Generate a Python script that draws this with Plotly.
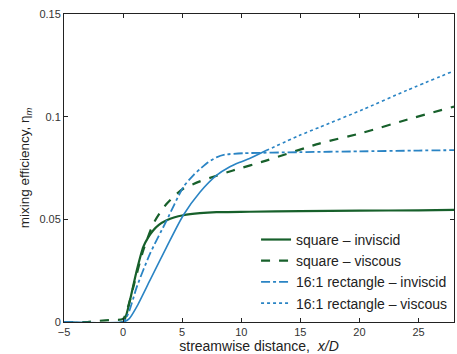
import plotly.graph_objects as go

# square - inviscid
sq_inv_x = [-5, 0, 0.3, 0.59, 1.16, 1.71, 2.1, 2.56, 3.0, 3.69, 4.3, 5.09, 6.5, 7.9, 10.7, 15, 20, 25, 28]
sq_inv_y = [0, 0, 0.004, 0.0107, 0.0252, 0.0366, 0.041, 0.0447, 0.0472, 0.0495, 0.0509, 0.052, 0.053, 0.0535, 0.0537, 0.054, 0.0542, 0.0544, 0.0546]

# square - viscous
sq_vis_x = [-5, -3, -2, -1, 0, 0.4, 0.87, 1.71, 2.56, 3.1, 3.69, 4.3, 5.09, 6.5, 7.9, 9.3, 12.1, 16.6, 20.3, 24, 28]
sq_vis_y = [0, 0, 0.0006, 0.001, 0.0015, 0.007, 0.0171, 0.035, 0.0479, 0.053, 0.0576, 0.0612, 0.0649, 0.0685, 0.0712, 0.0738, 0.0786, 0.0869, 0.0922, 0.0985, 0.1049]

# 16:1 rectangle - inviscid
re_inv_x = [-5, 0, 0.5, 1.16, 2.28, 3.69, 5.09, 6.0, 6.5, 7.2, 7.9, 8.6, 10.2, 14.9, 20, 25, 28]
re_inv_y = [0, 0, 0.005, 0.0171, 0.0333, 0.0495, 0.0657, 0.0718, 0.0745, 0.0778, 0.0802, 0.0815, 0.0822, 0.0827, 0.0831, 0.0835, 0.0837]

# 16:1 rectangle - viscous
re_vis_x = [-5, 0, 0.5, 1.15, 2.28, 3.69, 5.09, 6.5, 7.9, 9.0, 9.9, 10.7, 12.1, 14.9, 16.6, 20.3, 24, 28]
re_vis_y = [0, 0, 0.0015, 0.0074, 0.0204, 0.0366, 0.052, 0.0632, 0.0714, 0.0755, 0.0778, 0.0796, 0.0835, 0.0908, 0.0948, 0.1035, 0.1128, 0.1223]

x_ticks = [-5, 0, 5, 10, 15, 20, 25]
y_ticks = [0, 0.05, 0.1, 0.15]
y_tick_text = ["0", "0.05", "0.1", "0.15"]

green = "#17602b"
blue = "#2a84c4"

split = 12  # index where viscous rectangle curve becomes visibly dotted

fig = go.Figure()
fig.add_trace(go.Scatter(x=sq_inv_x, y=sq_inv_y, mode="lines", name="square – inviscid",
                         line=dict(color=green, width=2.2, shape="spline", smoothing=0.6)))
fig.add_trace(go.Scatter(x=sq_vis_x, y=sq_vis_y, mode="lines", name="square – viscous",
                         line=dict(color=green, width=2.2, dash="dash", shape="spline", smoothing=0.6)))
fig.add_trace(go.Scatter(x=re_inv_x, y=re_inv_y, mode="lines", name="16:1 rectangle – inviscid",
                         line=dict(color=blue, width=1.8, dash="dashdot", shape="spline", smoothing=0.6)))
fig.add_trace(go.Scatter(x=re_vis_x[:split + 1], y=re_vis_y[:split + 1], mode="lines", showlegend=False,
                         line=dict(color=blue, width=1.6, shape="spline", smoothing=0.6)))
fig.add_trace(go.Scatter(x=re_vis_x[split:], y=re_vis_y[split:], mode="lines", name="16:1 rectangle – viscous",
                         line=dict(color=blue, width=1.6, dash="dot", shape="spline", smoothing=0.6)))

axis_common = dict(showline=True, linecolor="#222", linewidth=1, mirror="ticks",
                   ticks="inside", ticklen=4, tickcolor="#222", showgrid=False, zeroline=False,
                   tickfont=dict(size=11, color="#333"))

fig.update_layout(
    width=457, height=354,
    margin=dict(l=64, r=3, t=14, b=32),
    paper_bgcolor="white", plot_bgcolor="white",
    font=dict(family="Liberation Sans, Arial, sans-serif", color="#222"),
    xaxis=dict(range=[-5, 28], tickvals=x_ticks,
               title=dict(text="streamwise distance,  <i>x/D</i>", font=dict(size=14), standoff=1),
               **axis_common),
    yaxis=dict(range=[0, 0.15], tickvals=y_ticks, ticktext=y_tick_text,
               title=dict(text="mixing efficiency, η<sub><i>m</i></sub>", font=dict(size=13.5), standoff=6),
               **axis_common),
    legend=dict(x=0.995, xanchor="right", y=0.01, yanchor="bottom", bgcolor="rgba(255,255,255,0)",
                font=dict(size=14, color="#222"), tracegroupgap=0, itemwidth=30,
                borderwidth=0),
)

fig.write_html("out.html")
